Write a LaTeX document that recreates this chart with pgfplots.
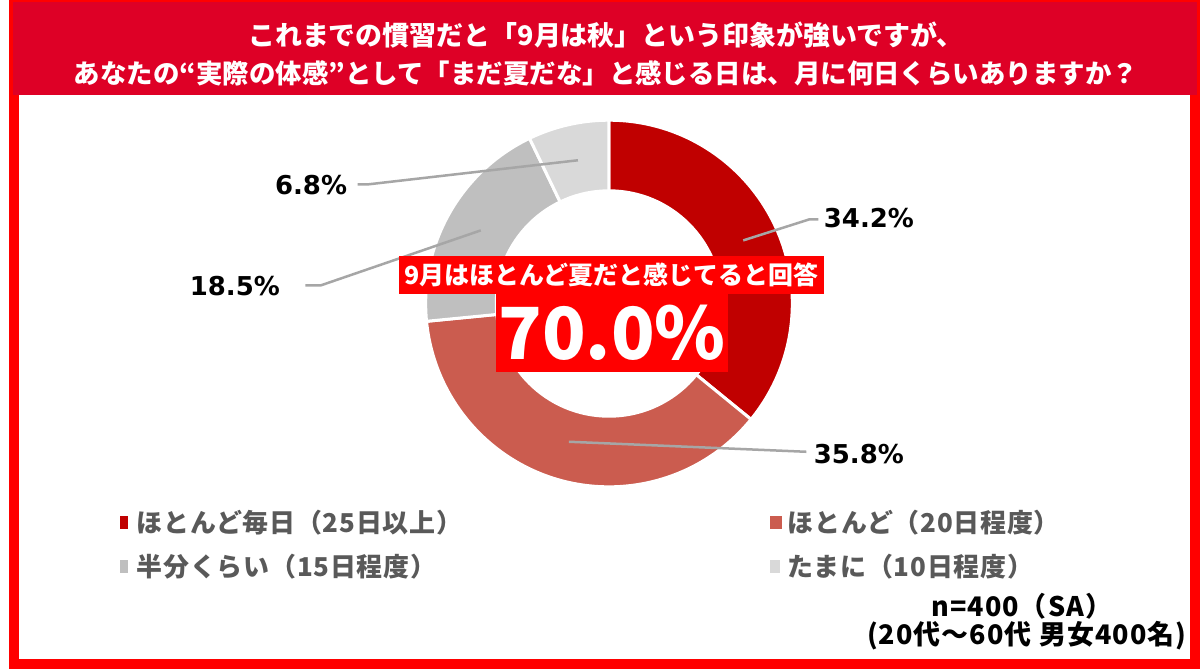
\documentclass[border=0pt]{standalone}
\usepackage{pgfplots}
\pgfplotsset{compat=1.18}
\usepackage{pgfplotstable}
\usepackage{fontspec}
\setmainfont{Noto Sans CJK JP}
\newfontfamily\dv{DejaVu Sans}

\definecolor{frame}{RGB}{255,0,0}
\definecolor{band}{RGB}{222,0,38}
\definecolor{cA}{RGB}{192,0,0}
\definecolor{cB}{RGB}{203,92,79}
\definecolor{cC}{RGB}{191,191,191}
\definecolor{cD}{RGB}{217,217,217}
\definecolor{lead}{RGB}{166,166,166}
\definecolor{legtxt}{RGB}{89,89,89}

% share (%) of each answer, clockwise from 12 o'clock
\pgfplotstableread{
cat value
1 34.2
2 35.8
3 18.5
4 6.8
}\donutdata

\begin{document}
\pgfplotstablegetelem{0}{value}\of\donutdata\let\va\pgfplotsretval
\pgfplotstablegetelem{1}{value}\of\donutdata\let\vb\pgfplotsretval
\pgfplotstablegetelem{2}{value}\of\donutdata\let\vc\pgfplotsretval
\pgfplotstablegetelem{3}{value}\of\donutdata\let\vd\pgfplotsretval
\pgfmathsetmacro\tot{\va+\vb+\vc+\vd}
\pgfmathsetmacro\aA{90-360*\va/\tot}
\pgfmathsetmacro\aB{\aA-360*\vb/\tot}
\pgfmathsetmacro\aC{\aB-360*\vc/\tot}
\begin{tikzpicture}[
    legfont/.style={font=\fontsize{26}{30}\selectfont\bfseries\addfontfeatures{LetterSpace=3}},
    notefont/.style={font=\fontsize{27}{31}\selectfont\bfseries\addfontfeatures{LetterSpace=4}},
  ]
\begin{axis}[
    x=1bp, y=1bp,
    xmin=0, xmax=1200, ymin=0, ymax=672,
    hide axis, clip=false,
  ]
  % frame and title band
  \fill[frame] (axis cs:4,2) rectangle (axis cs:1193,670);
  \fill[band] (axis cs:8,575) rectangle (axis cs:1190,668);
  \fill[white] (axis cs:14,12) rectangle (axis cs:1183,575);
  \node[white, font=\fontsize{27}{31}\selectfont\bfseries] at (axis cs:600,635)
    {これまでの慣習だと「9月は秋」という印象が強いですが、};
  \node[white, font=\fontsize{26.5}{31}\selectfont\bfseries] at (axis cs:600,597)
    {あなたの“実際の体感”として「まだ夏だな」と感じる日は、月に何日くらいありますか？};

  % donut
  \filldraw[fill=cA, draw=white, line width=3bp] (axis cs:603,367) -- ++(90:183bp)
    arc[start angle=90, end angle=\aA, radius=183bp] -- cycle;
  \filldraw[fill=cB, draw=white, line width=3bp] (axis cs:603,367) -- ++(\aA:183bp)
    arc[start angle=\aA, end angle=\aB, radius=183bp] -- cycle;
  \filldraw[fill=cC, draw=white, line width=3bp] (axis cs:603,367) -- ++(\aB:183bp)
    arc[start angle=\aB, end angle=\aC, radius=183bp] -- cycle;
  \filldraw[fill=cD, draw=white, line width=3bp] (axis cs:603,367) -- ++(\aC:183bp)
    arc[start angle=\aC, end angle=-270, radius=183bp] -- cycle;
  \fill[white] (axis cs:603,367) circle[radius=114bp];

  % leader lines and value labels
  \draw[lead, line width=2.5bp] (axis cs:737,430) -- (axis cs:803,451) -- (axis cs:812,451);
  \draw[lead, line width=2.5bp] (axis cs:563,229) -- (axis cs:800,219);
  \draw[lead, line width=2.5bp] (axis cs:475,440) -- (axis cs:315,385) -- (axis cs:300,385);
  \draw[lead, line width=2.5bp] (axis cs:572,510) -- (axis cs:363,486) -- (axis cs:352,486);
  \node[anchor=west, font=\dv\fontsize{26}{30}\selectfont\bfseries] at (axis cs:814,452) {34.2\%};
  \node[anchor=west, font=\dv\fontsize{26}{30}\selectfont\bfseries] at (axis cs:804,217) {35.8\%};
  \node[anchor=east, font=\dv\fontsize{26}{30}\selectfont\bfseries] at (axis cs:278,384) {18.5\%};
  \node[anchor=east, font=\dv\fontsize{26}{30}\selectfont\bfseries] at (axis cs:345,485) {6.8\%};

  % centre call-out
  \fill[frame] (axis cs:393,377) rectangle (axis cs:818,414);
  \fill[frame] (axis cs:490,299) rectangle (axis cs:722,377);
  \node[white, font=\fontsize{25}{28}\selectfont\bfseries] at (axis cs:605.5,395.5)
    {9月はほとんど夏だと感じてると回答};
  \node[white, font=\fontsize{72}{76}\selectfont\bfseries] at (axis cs:606,338) {70.0\%};

  % legend
  \fill[cA] (axis cs:115,142) rectangle (axis cs:123,155);
  \fill[cB] (axis cs:764,142) rectangle (axis cs:776,155);
  \fill[cC] (axis cs:115,98) rectangle (axis cs:123,111);
  \fill[cD] (axis cs:764,98) rectangle (axis cs:774,111);
  \node[anchor=west, legtxt, legfont] at (axis cs:128,148) {ほとんど毎日（25日以上）};
  \node[anchor=west, legtxt, legfont] at (axis cs:778,148) {ほとんど（20日程度）};
  \node[anchor=west, legtxt, legfont] at (axis cs:128,104) {半分くらい（15日程度）};
  \node[anchor=west, legtxt, legfont] at (axis cs:778,104) {たまに（10日程度）};

  % sample note
  \node[notefont] at (axis cs:1015,65) {n=400（SA）};
  \node[anchor=east, notefont] at (axis cs:1183,35) {(20代～60代 男女400名)};
\end{axis}
\end{tikzpicture}
\end{document}
